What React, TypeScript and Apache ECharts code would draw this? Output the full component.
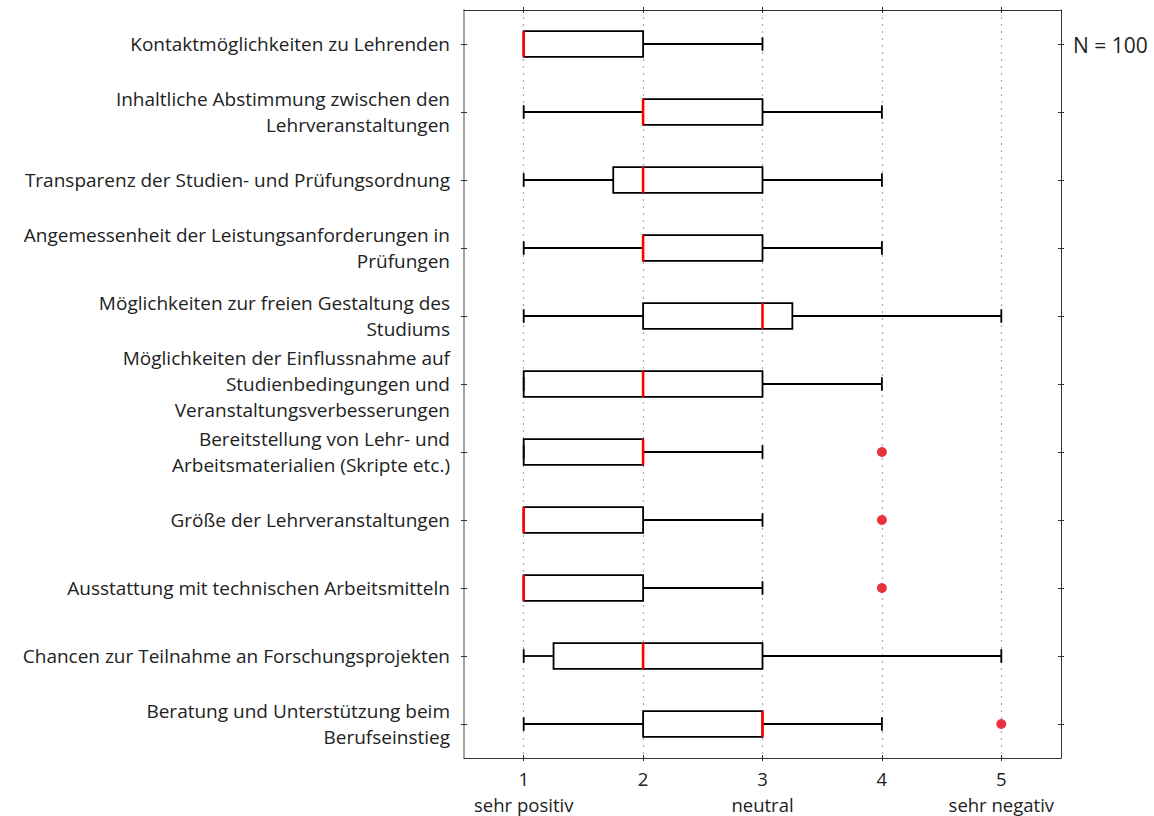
import React, { useEffect, useRef } from "react";
import * as echarts from "echarts";

const categories = [
  "Kontaktmöglichkeiten zu Lehrenden",
  "Inhaltliche Abstimmung zwischen den\nLehrveranstaltungen",
  "Transparenz der Studien- und Prüfungsordnung",
  "Angemessenheit der Leistungsanforderungen in\nPrüfungen",
  "Möglichkeiten zur freien Gestaltung des\nStudiums",
  "Möglichkeiten der Einflussnahme auf\nStudienbedingungen und\nVeranstaltungsverbesserungen",
  "Bereitstellung von Lehr- und\nArbeitsmaterialien (Skripte etc.)",
  "Größe der Lehrveranstaltungen",
  "Ausstattung mit technischen Arbeitsmitteln",
  "Chancen zur Teilnahme an Forschungsprojekten",
  "Beratung und Unterstützung beim\nBerufseinstieg",
];

// [min, Q1, median, Q3, max]
const boxValues = [
  [1, 1, 1, 2, 3],
  [1, 2, 2, 3, 4],
  [1, 1.75, 2, 3, 4],
  [1, 2, 2, 3, 4],
  [1, 2, 3, 3.25, 5],
  [1, 1, 2, 3, 4],
  [1, 1, 2, 2, 3],
  [1, 1, 1, 2, 3],
  [1, 1, 1, 2, 3],
  [1, 1.25, 2, 3, 5],
  [1, 2, 3, 3, 4],
];

// [value, category index]
const outliers = [
  [4, 6],
  [4, 7],
  [4, 8],
  [5, 10],
];

const tickValues = [1, 2, 3, 4, 5];
const scaleValues = [1, 3, 5];
const scaleWords: Record<number, string> = {
  1: "sehr positiv",
  3: "neutral",
  5: "sehr negativ",
};

const FONT = "'Open Sans', 'Noto Sans', sans-serif";

export default function App() {
  const ref = useRef<HTMLDivElement>(null);

  useEffect(() => {
    if (!ref.current) return;
    const chart = echarts.init(ref.current, null, { renderer: "svg" });

    const xBase = {
      type: "value" as const,
      min: 0.5,
      max: 5.5,
    };

    const yBase = {
      type: "category" as const,
      data: categories,
      inverse: true,
      boundaryGap: true,
    };

    const lineBlack = { lineStyle: { color: "#333", width: 1 } };

    chart.setOption({
      animation: false,
      grid: { left: 464, right: 93, top: 10, bottom: 58, containLabel: false },
      xAxis: [
        {
          ...xBase,
          position: "bottom",
          axisLine: { show: true, ...lineBlack },
          axisTick: { show: true, customValues: tickValues, length: 3, inside: false, ...lineBlack },
          axisLabel: {
            customValues: tickValues,
            formatter: (v: number) => String(v),
            fontFamily: FONT,
            fontSize: 18.5,
            lineHeight: 18,
            color: "#222",
            margin: 11,
          },
          splitLine: {
            show: true,
            lineStyle: { color: "#aaa", type: [2, 5], width: 1.2 },
          },
        },
        {
          ...xBase,
          position: "bottom",
          axisLine: { show: false },
          axisTick: { show: true, customValues: tickValues, length: 3, inside: true, ...lineBlack },
          axisLabel: {
            customValues: scaleValues,
            formatter: (v: number) => scaleWords[v] ?? "",
            fontFamily: FONT,
            fontSize: 18.5,
            lineHeight: 18,
            color: "#222",
            margin: 37,
          },
          splitLine: { show: false },
        },
        {
          ...xBase,
          position: "top",
          axisLine: { show: true, ...lineBlack },
          axisTick: { show: true, customValues: tickValues, length: 3, inside: false, ...lineBlack },
          axisLabel: { show: false },
          splitLine: { show: false },
        },
        {
          ...xBase,
          position: "top",
          axisLine: { show: false },
          axisTick: { show: true, customValues: tickValues, length: 3, inside: true, ...lineBlack },
          axisLabel: { show: false },
          splitLine: { show: false },
        },
      ],
      yAxis: [
        {
          ...yBase,
          position: "left",
          axisLine: { show: true, lineStyle: { color: "#888", width: 1.5 } },
          axisTick: { show: true, alignWithLabel: true, length: 3, inside: false, lineStyle: { color: "#333" } },
          axisLabel: {
            fontFamily: FONT,
            fontSize: 19,
            lineHeight: 26,
            color: "#222",
            margin: 14,
            align: "right",
          },
          splitLine: { show: false },
        },
        {
          ...yBase,
          position: "left",
          axisLine: { show: false },
          axisTick: { show: true, alignWithLabel: true, length: 3, inside: true, lineStyle: { color: "#333" } },
          axisLabel: { show: false },
        },
        {
          ...yBase,
          position: "right",
          axisLine: { show: true, ...lineBlack },
          axisTick: { show: true, alignWithLabel: true, length: 3, inside: false, ...lineBlack },
          axisLabel: { show: false },
        },
        {
          ...yBase,
          position: "right",
          axisLine: { show: false },
          axisTick: { show: true, alignWithLabel: true, length: 3, inside: true, ...lineBlack },
          axisLabel: { show: false },
        },
      ],
      graphic: [
        {
          type: "text",
          left: 1073,
          top: 34,
          style: {
            text: "N = 100",
            fontFamily: FONT,
            fontSize: 21,
            fill: "#222",
          },
        },
      ],
      series: [
        {
          type: "custom",
          xAxisIndex: 0,
          yAxisIndex: 0,
          data: boxValues.map((b, i) => [i, ...b]),
          encode: { x: [1, 2, 3, 4, 5], y: 0 },
          renderItem: (params: any, api: any) => {
            const idx = api.value(0);
            const vmin = api.value(1);
            const q1 = api.value(2);
            const med = api.value(3);
            const q3 = api.value(4);
            const vmax = api.value(5);
            const band = api.size([0, 1])[1];
            const boxH = band * 0.38;
            const capH = band * 0.2;
            const pMin = api.coord([vmin, idx]);
            const pQ1 = api.coord([q1, idx]);
            const pMed = api.coord([med, idx]);
            const pQ3 = api.coord([q3, idx]);
            const pMax = api.coord([vmax, idx]);
            const cy = pMin[1];
            const black = { stroke: "#000", lineWidth: 1.8, fill: "none" };
            const children: any[] = [];
            if (pQ1[0] > pMin[0] + 0.5) {
              children.push({
                type: "line",
                shape: { x1: pMin[0], y1: cy, x2: pQ1[0], y2: cy },
                style: black,
              });
            }
            children.push({
              type: "line",
              shape: { x1: pMin[0], y1: cy - capH / 2, x2: pMin[0], y2: cy + capH / 2 },
              style: black,
            });
            if (pMax[0] > pQ3[0] + 0.5) {
              children.push({
                type: "line",
                shape: { x1: pQ3[0], y1: cy, x2: pMax[0], y2: cy },
                style: black,
              });
            }
            children.push({
              type: "line",
              shape: { x1: pMax[0], y1: cy - capH / 2, x2: pMax[0], y2: cy + capH / 2 },
              style: black,
            });
            children.push({
              type: "rect",
              shape: { x: pQ1[0], y: cy - boxH / 2, width: pQ3[0] - pQ1[0], height: boxH },
              style: { stroke: "#000", lineWidth: 1.8, fill: "rgba(255,255,255,0)" },
            });
            children.push({
              type: "line",
              shape: { x1: pMed[0], y1: cy - boxH / 2, x2: pMed[0], y2: cy + boxH / 2 },
              style: { stroke: "#ff0000", lineWidth: 2.6 },
            });
            return { type: "group", children };
          },
          z: 3,
        },
        {
          type: "scatter",
          xAxisIndex: 0,
          yAxisIndex: 0,
          data: outliers,
          symbol: "circle",
          symbolSize: 10,
          itemStyle: { color: "#e3000f" },
          z: 4,
        },
      ],
    });

    return () => chart.dispose();
  }, []);

  return <div ref={ref} style={{ width: 1154, height: 816, position: "absolute", left: 0, top: 0 }} />;
}
